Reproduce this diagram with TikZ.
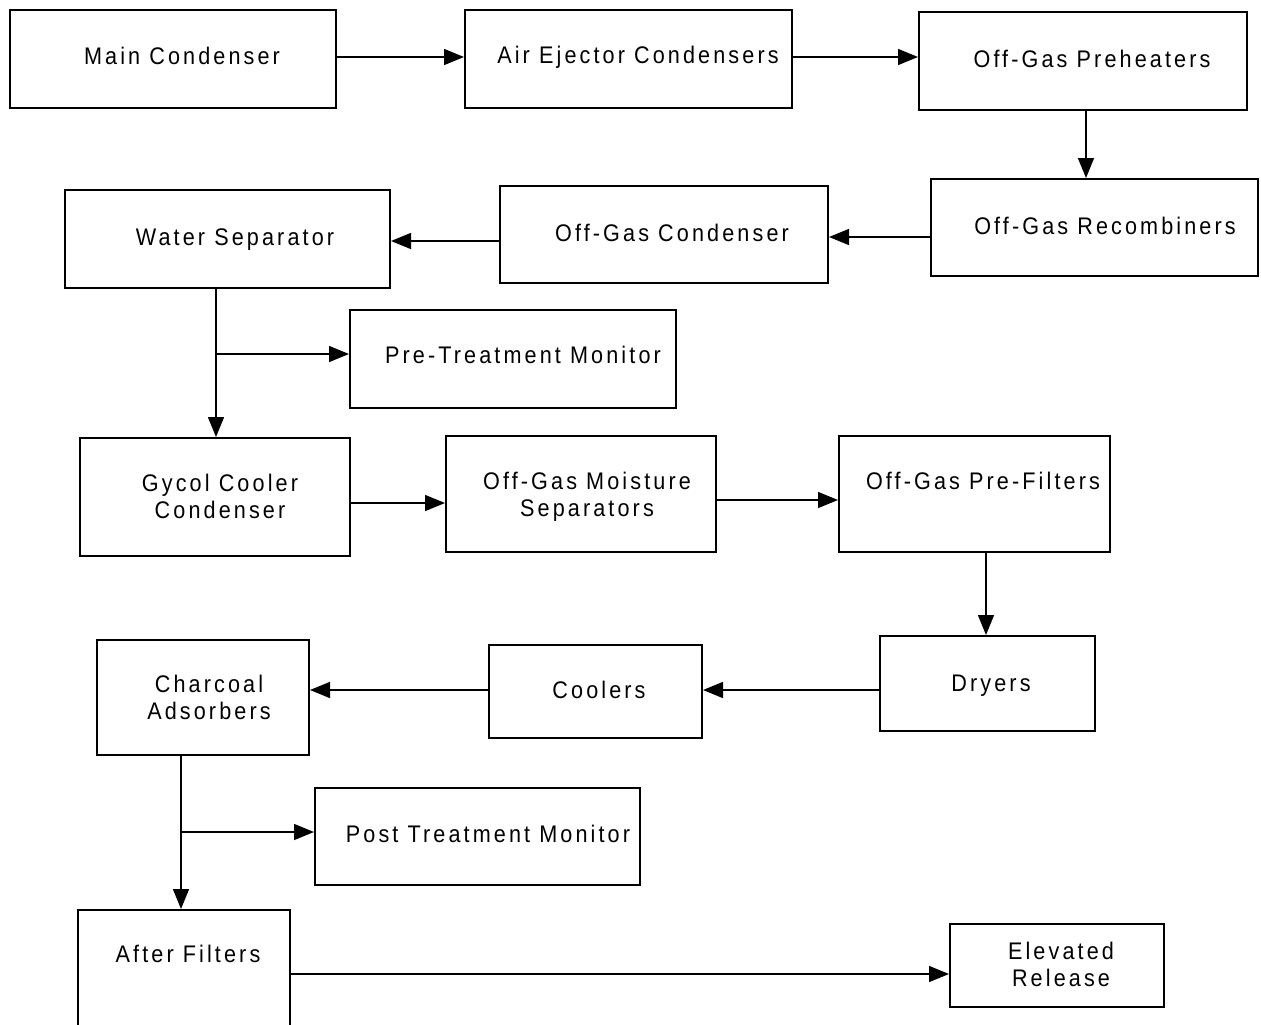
\documentclass[tikz,border=0pt]{standalone}
\usepackage{fontspec}
\setmainfont{Liberation Sans}[LetterSpace=13,FakeStretch=0.9]
\usetikzlibrary{arrows.meta,fit}
\begin{document}
\begin{tikzpicture}[x=0.75pt,y=-0.75pt,
  box/.style={draw,line width=1.5pt,inner sep=0pt},
  lbl/.style={font=\fontsize{18}{20}\selectfont,align=center,inner sep=0pt,anchor=base},
  arr/.style={line width=1.1pt,-{Triangle[length=15pt,width=12pt]}}]
\useasboundingbox[fill=white] (0,0) rectangle (1261,1025);
\clip (0,0) rectangle (1261,1025);
% boxes
\node[box,fit={(10,10)(336,108)}] (mc) {};
\node[box,fit={(465,10)(792,108)}] (aec) {};
\node[box,fit={(919,12)(1247,110)}] (ogp) {};
\node[box,fit={(931,179)(1258,276)}] (ogr) {};
\node[box,fit={(500,186)(828,283)}] (ogc) {};
\node[box,fit={(65,190)(390,288)}] (ws) {};
\node[box,fit={(350,310)(676,408)}] (ptm) {};
\node[box,fit={(80,438)(350,556)}] (gcc) {};
\node[box,fit={(446,436)(716,552)}] (ogms) {};
\node[box,fit={(839,436)(1110,552)}] (ogpf) {};
\node[box,fit={(880,636)(1095,731)}] (dry) {};
\node[box,fit={(489,645)(702,738)}] (cool) {};
\node[box,fit={(97,640)(309,755)}] (ca) {};
\node[box,fit={(315,788)(640,885)}] (post) {};
\node[box,fit={(78,910)(290,1040)}] (af) {};
\node[box,fit={(950,924)(1164,1007)}] (er) {};
% labels
\node[lbl] (mcT) at (182,64) {Main Condenser};
\node[lbl] (aecT) at (638,63) {Air Ejector Condensers};
\node[lbl] (ogpT) at (1092,67) {Off-Gas Preheaters};
\node[lbl] (ogrT) at (1105,234) {Off-Gas Recombiners};
\node[lbl] (ogcT) at (672,241) {Off-Gas Condenser};
\node[lbl] (wsT) at (235,245) {Water Separator};
\node[lbl] (ptmT) at (523,363) {Pre-Treatment Monitor};
\node[lbl] (gccT) at (220,518) {Gycol Cooler\\Condenser};
\node[lbl] (ogmsT) at (587,516) {Off-Gas Moisture\\Separators};
\node[lbl] (ogpfT) at (983,489) {Off-Gas Pre-Filters};
\node[lbl] (dryT) at (991,691) {Dryers};
\node[lbl] (coolT) at (599,698) {Coolers};
\node[lbl] (caT) at (209,719) {Charcoal\\Adsorbers};
\node[lbl] (postT) at (488,842) {Post Treatment Monitor};
\node[lbl] (afT) at (188,962) {After Filters};
\node[lbl] (erT) at (1061,986) {Elevated\\Release};
% connectors
\draw[arr] (mc.east |- 0,57) -- (aec.west |- 0,57);
\draw[arr] (aec.east |- 0,57) -- (ogp.west |- 0,57);
\draw[arr] (ogp.south -| 1086,0) -- (ogr.north -| 1086,0);
\draw[arr] (ogr.west |- 0,237) -- (ogc.east |- 0,237);
\draw[arr] (ogc.west |- 0,241) -- (ws.east |- 0,241);
\draw[arr] (ws.south -| 216,0) -- (gcc.north -| 216,0);
\coordinate (br1) at (216,354);
\draw[arr] (br1) -- (ptm.west |- br1);
\draw[arr] (gcc.east |- 0,503) -- (ogms.west |- 0,503);
\draw[arr] (ogms.east |- 0,500) -- (ogpf.west |- 0,500);
\draw[arr] (ogpf.south -| 986,0) -- (dry.north -| 986,0);
\draw[arr] (dry.west |- 0,690) -- (cool.east |- 0,690);
\draw[arr] (cool.west |- 0,690) -- (ca.east |- 0,690);
\draw[arr] (ca.south -| 181,0) -- (af.north -| 181,0);
\coordinate (br2) at (181,832);
\draw[arr] (br2) -- (post.west |- br2);
\draw[arr] (af.east |- 0,974) -- (er.west |- 0,974);
\end{tikzpicture}
\end{document}
